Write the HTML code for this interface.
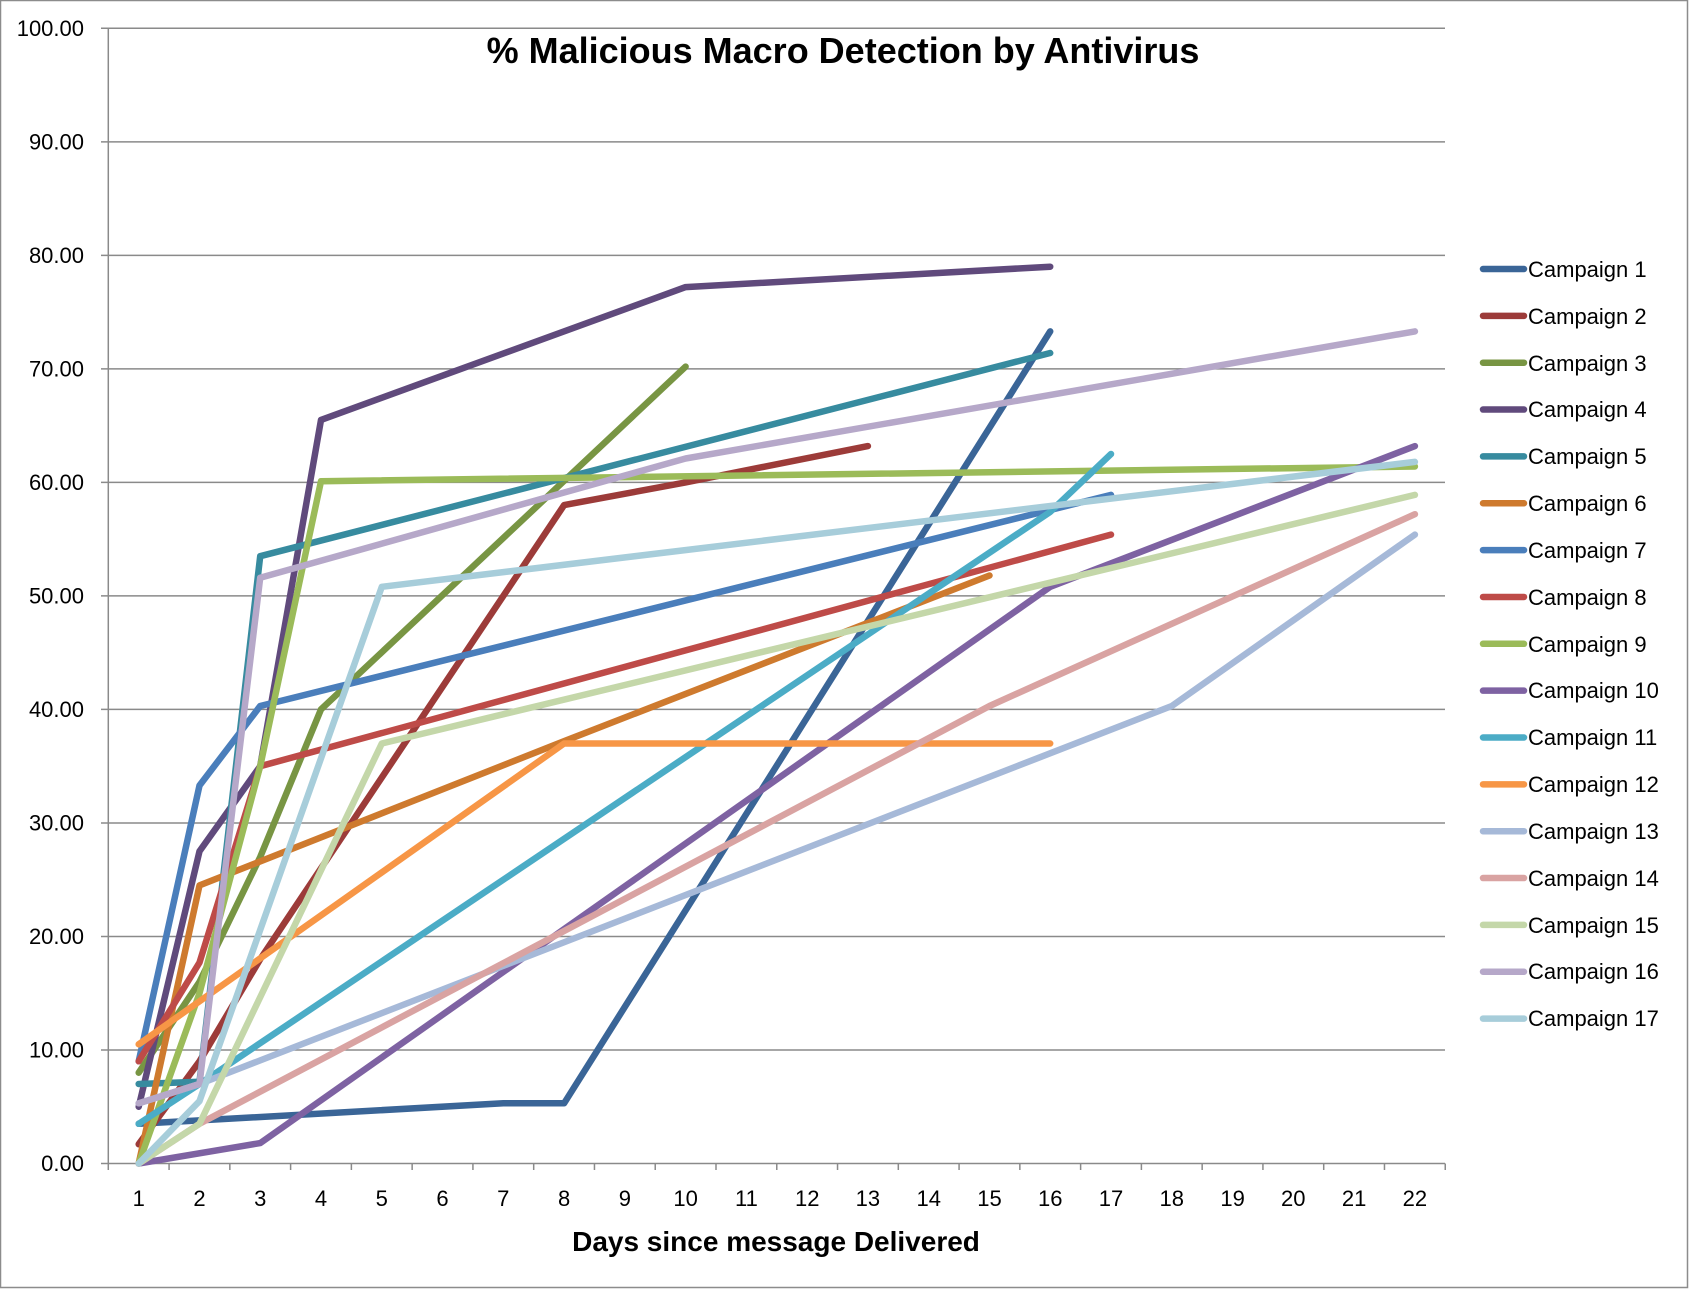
<!DOCTYPE html>
<html><head><meta charset="utf-8"><style>
html,body{margin:0;padding:0;background:#fff;}
svg{display:block;font-family:"Liberation Sans",sans-serif;}
</style></head><body>
<svg id="c" width="1689" height="1289" viewBox="0 0 1689 1289" xmlns="http://www.w3.org/2000/svg">
<rect x="0.5" y="0.5" width="1687" height="1287" fill="#fff" stroke="#8c8c8c" stroke-width="1.5"/>
<g id="grid" stroke="#8a8a8a" stroke-width="1.5"></g>
<g id="lines" fill="none" stroke-width="6.5" stroke-linejoin="round" stroke-linecap="round"></g>
<g font-size="22" fill="#000" text-anchor="end">
<text x="84" y="1171">0.00</text><text x="84" y="1057.5">10.00</text><text x="84" y="944">20.00</text><text x="84" y="830.5">30.00</text><text x="84" y="717">40.00</text><text x="84" y="603.5">50.00</text><text x="84" y="490">60.00</text><text x="84" y="376.5">70.00</text><text x="84" y="263">80.00</text><text x="84" y="149.5">90.00</text><text x="84" y="36">100.00</text>
</g>
<g font-size="22" fill="#000" text-anchor="middle">
<text x="138.7" y="1206">1</text><text x="199.5" y="1206">2</text><text x="260.2" y="1206">3</text><text x="321" y="1206">4</text><text x="381.8" y="1206">5</text><text x="442.5" y="1206">6</text><text x="503.3" y="1206">7</text><text x="564.1" y="1206">8</text><text x="624.9" y="1206">9</text><text x="685.6" y="1206">10</text><text x="746.4" y="1206">11</text><text x="807.2" y="1206">12</text><text x="867.9" y="1206">13</text><text x="928.7" y="1206">14</text><text x="989.5" y="1206">15</text><text x="1050.3" y="1206">16</text><text x="1111" y="1206">17</text><text x="1171.8" y="1206">18</text><text x="1232.6" y="1206">19</text><text x="1293.3" y="1206">20</text><text x="1354.1" y="1206">21</text><text x="1414.9" y="1206">22</text>
</g>
<text x="843" y="63" font-size="36" font-weight="bold" text-anchor="middle">% Malicious Macro Detection by Antivirus</text>
<text x="776" y="1251" font-size="28" font-weight="bold" text-anchor="middle">Days since message Delivered</text>
<g id="leg" font-size="22" fill="#000">
<text x="1528" y="277">Campaign 1</text><text x="1528" y="324">Campaign 2</text><text x="1528" y="371">Campaign 3</text><text x="1528" y="417">Campaign 4</text><text x="1528" y="464">Campaign 5</text><text x="1528" y="511">Campaign 6</text><text x="1528" y="558">Campaign 7</text><text x="1528" y="605">Campaign 8</text><text x="1528" y="652">Campaign 9</text><text x="1528" y="698">Campaign 10</text><text x="1528" y="745">Campaign 11</text><text x="1528" y="792">Campaign 12</text><text x="1528" y="839">Campaign 13</text><text x="1528" y="886">Campaign 14</text><text x="1528" y="933">Campaign 15</text><text x="1528" y="979">Campaign 16</text><text x="1528" y="1026">Campaign 17</text>
</g>
<g id="legl" stroke-width="6.5" stroke-linecap="round"></g>
</svg>
<script>
var NS="http://www.w3.org/2000/svg";
function X(d){return 108.3+60.77*(d-0.5);}
function Y(v){return 1163.5-11.352*v;}
var g=document.getElementById("grid");
function ln(p,x1,y1,x2,y2){var l=document.createElementNS(NS,"line");l.setAttribute("x1",x1);l.setAttribute("y1",y1);l.setAttribute("x2",x2);l.setAttribute("y2",y2);p.appendChild(l);}
for(var k=0;k<=10;k++){var y=Y(k*10);ln(g,101,y,1445,y);}
ln(g,108.3,28,108.3,1164);
for(var i=0;i<=22;i++){var x=108.3+60.77*i;ln(g,x,1163.5,x,1170);}
var S=[
["#3A6597",[[1,3.5],[2,3.8],[7,5.3],[8,5.3],[16,73.3]]],
["#9C3B39",[[1,1.7],[2,9],[3,18],[8,58],[10,60],[13,63.2]]],
["#789543",[[1,8],[2,16],[3,27],[4,40],[10,70.2]]],
["#604A7C",[[1,5],[2,27.5],[3,35],[4,65.5],[10,77.2],[16,79]]],
["#378B9F",[[1,7],[2,7.2],[3,53.5],[16,71.4]]],
["#CE7A2E",[[1,0],[2,24.5],[8,37.2],[15,51.8]]],
["#4A7EBB",[[1,9],[2,33.3],[3,40.3],[17,58.9]]],
["#BE4B48",[[1,9],[2,17.7],[3,35],[17,55.4]]],
["#9BBB59",[[1,0],[2,15],[3,35],[4,60.1],[22,61.4]]],
["#7E62A2",[[1,0],[3,1.8],[16,50.8],[22,63.2]]],
["#4BACC6",[[1,3.5],[2,7],[16,57.4],[17,62.5]]],
["#F79646",[[1,10.5],[8,37],[16,37]]],
["#A6B9D8",[[1,5.3],[2,7],[18,40.3],[22,55.4]]],
["#D9A3A2",[[1,0],[2,3.5],[15,40.3],[22,57.2]]],
["#C4D7A9",[[1,0],[2,3.5],[5,37],[22,58.9]]],
["#B6A8C9",[[1,5.3],[2,7],[3,51.6],[10,62.1],[22,73.3]]],
["#A7CDDA",[[1,0],[2,5.5],[5,50.8],[22,61.8]]]
];
var L=document.getElementById("lines"),G=document.getElementById("legl");
S.forEach(function(s,i){
 var p=document.createElementNS(NS,"polyline");
 p.setAttribute("points",s[1].map(function(q){return X(q[0]).toFixed(1)+","+Y(q[1]).toFixed(1);}).join(" "));
 p.setAttribute("stroke",s[0]);L.appendChild(p);
 var y=269+46.85*i;var l=document.createElementNS(NS,"line");
 l.setAttribute("x1",1483);l.setAttribute("x2",1524);l.setAttribute("y1",y);l.setAttribute("y2",y);l.setAttribute("stroke",s[0]);G.appendChild(l);
});
</script>
</body></html>
